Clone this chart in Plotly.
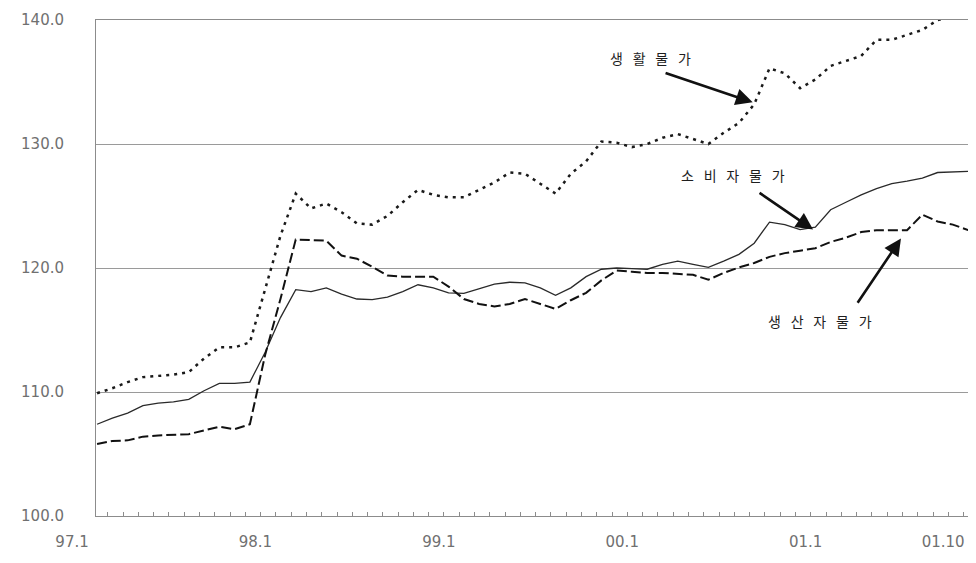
import plotly.graph_objects as go

# month index 0 = 97.1 ... 57 = 01.10
months = list(range(58))

life_price = [109.9, 110.3, 110.8, 111.2, 111.3, 111.4, 111.6, 112.7, 113.6, 113.6,
              114.0, 118.3, 122.6, 126.0, 124.8, 125.2, 124.5, 123.6, 123.5, 124.2,
              125.3, 126.3, 125.9, 125.7, 125.7, 126.3, 126.9, 127.7, 127.6, 126.8,
              126.0, 127.6, 128.6, 130.2, 130.1, 129.75, 130.0, 130.5, 130.8, 130.4,
              130.0, 130.9, 131.7, 133.2, 136.1, 135.7, 134.5, 135.2, 136.3, 136.7,
              137.1, 138.4, 138.4, 138.8, 139.2, 140.0, 140.3, 140.6]

consumer_price = [107.4, 107.9, 108.3, 108.9, 109.1, 109.2, 109.4, 110.1, 110.7, 110.7,
                  110.8, 113.2, 116.0, 118.25, 118.1, 118.4, 117.9, 117.5, 117.45, 117.65,
                  118.1, 118.65, 118.4, 118.0, 117.95, 118.3, 118.7, 118.85, 118.8, 118.4,
                  117.8, 118.4, 119.3, 119.9, 120.0, 119.95, 119.9, 120.3, 120.55, 120.3,
                  120.05, 120.55, 121.1, 122.0, 123.7, 123.5, 123.1, 123.3, 124.7, 125.3,
                  125.9, 126.4, 126.8, 127.0, 127.25, 127.7, 127.75, 127.8]

producer_price = [105.8, 106.05, 106.1, 106.4, 106.5, 106.55, 106.6, 106.9, 107.2, 107.0,
                  107.4, 113.0, 117.5, 122.3, 122.25, 122.2, 121.0, 120.75, 120.1, 119.4,
                  119.3, 119.3, 119.3, 118.5, 117.5, 117.1, 116.9, 117.1, 117.5, 117.1,
                  116.7, 117.4, 118.0, 119.0, 119.8, 119.7, 119.6, 119.6, 119.5, 119.45,
                  119.05, 119.6, 120.05, 120.4, 120.9, 121.2, 121.4, 121.6, 122.1, 122.45,
                  122.9, 123.05, 123.05, 123.05, 124.3, 123.75, 123.5, 123.05]

x_tick_vals = [0, 12, 24, 36, 48, 57]
x_tick_text = ["97.1", "98.1", "99.1", "00.1", "01.1", "01.10"]
y_tick_vals = [100, 110, 120, 130, 140]

series_names = ["생활물가", "소비자물가", "생산자물가"]
label_texts = ["생\u2002\u2009활\u2002\u2009물\u2002\u2009가",
               "소\u2002\u2009비\u2002\u2009자\u2002\u2009물\u2002\u2009가",
               "생\u2002\u2009산\u2002\u2009자\u2002\u2009물\u2002\u2009가"]

fig = go.Figure()
fig.add_trace(go.Scatter(x=months, y=life_price, mode="lines", name=series_names[0],
                         line=dict(color="#1a1a1a", width=2.5, dash="3px,5px")))
fig.add_trace(go.Scatter(x=months, y=consumer_price, mode="lines", name=series_names[1],
                         line=dict(color="#2a2a2a", width=1.3)))
fig.add_trace(go.Scatter(x=months, y=producer_price, mode="lines", name=series_names[2],
                         line=dict(color="#111111", width=2.0, dash="10px,4px")))

label_font = dict(family="Noto Sans CJK KR, sans-serif", size=14, color="#1e1e1e")

annotations = [
    dict(x=36.2, y=136.97, text=label_texts[0], showarrow=False, font=label_font),
    dict(x=41.6, y=127.5, text=label_texts[1], showarrow=False, font=label_font),
    dict(x=47.3, y=115.7, text=label_texts[2], showarrow=False, font=label_font),
]
arrows = [
    ((37.1, 135.77), (42.9, 133.36)),
    ((43.25, 126.14), (46.85, 123.1)),
    ((49.7, 117.08), (52.6, 122.37)),
]
for (tx, ty), (hx, hy) in arrows:
    annotations.append(dict(x=hx, y=hy, ax=tx, ay=ty, xref="x", yref="y",
                            axref="x", ayref="y", text="", showarrow=True,
                            arrowhead=2, arrowsize=1.3, arrowwidth=2.6,
                            arrowcolor="#111111"))

tick_font = dict(family="DejaVu Sans, sans-serif", size=15, color="#707070")

fig.update_layout(
    width=968, height=555,
    margin=dict(l=88, r=3, t=9, b=47),
    paper_bgcolor="white", plot_bgcolor="white",
    showlegend=False,
    annotations=annotations,
    xaxis=dict(
        range=[-0.07, 57.25],
        tickvals=x_tick_vals, ticktext=x_tick_text,
        ticks="", showgrid=False, zeroline=False,
        showline=True, linecolor="#8c8c8c", linewidth=1, mirror=True,
        ticklabelshift=-25, ticklabelstandoff=12,
        tickfont=tick_font,
        minor=dict(ticks="inside", ticklen=4, tick0=0.7, dtick=1,
                   tickcolor="#8c8c8c", showgrid=False),
    ),
    yaxis=dict(
        range=[100, 140],
        tickvals=y_tick_vals, tickformat=".1f",
        showgrid=True, gridcolor="#9a9a9a", gridwidth=1,
        zeroline=False,
        showline=True, linecolor="#8c8c8c", linewidth=1, mirror=True,
        ticks="", ticklabelstandoff=28,
        tickfont=tick_font,
    ),
)

fig.write_html("out.html")
